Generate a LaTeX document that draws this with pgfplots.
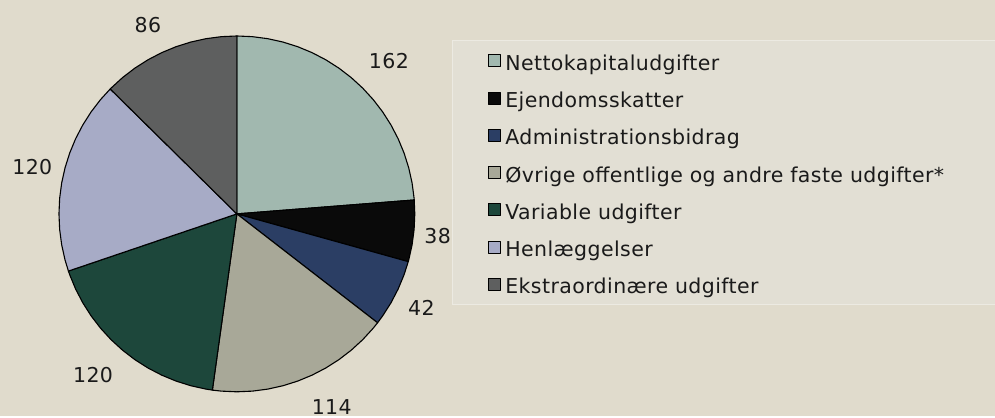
\documentclass[border=0pt]{standalone}
\usepackage{fontspec}
\setmainfont{DejaVu Sans}[LetterSpace=2]
\usepackage{pgfplots}
\pgfplotsset{compat=1.18}
\definecolor{bgcol}{HTML}{E0DBCC}
\definecolor{legbg}{HTML}{E2DFD4}
\definecolor{legborder}{HTML}{ECEAE2}
\definecolor{txt}{HTML}{1A1A1A}
\definecolor{sA}{HTML}{A1B8AF}
\definecolor{sB}{HTML}{0A0A0A}
\definecolor{sC}{HTML}{2B3E64}
\definecolor{sD}{HTML}{A8A898}
\definecolor{sE}{HTML}{1D473B}
\definecolor{sF}{HTML}{A7ABC6}
\definecolor{sG}{HTML}{5E5F5F}
\begin{document}
\begin{tikzpicture}
\fill[bgcol] (0,0) rectangle (995bp,416bp);
\fill[legbg] (453bp,111bp) rectangle (995bp,375bp);
\draw[legborder, line width=1bp] (995bp,111bp) -- (453bp,111bp) -- (453bp,375bp) -- (995bp,375bp);
\begin{axis}[
  at={(59bp,24bp)}, anchor=south west,
  scale only axis, width=356bp, height=356bp,
  xmin=-1, xmax=1, ymin=-1, ymax=1,
  hide axis, clip=false,
  slice/.style={fill=#1, draw=black, line width=1.1bp, line join=round, line cap=round, data cs=polar},
  legend image code/.code={\draw[#1, line width=0.9bp] (0bp,-1.5bp) rectangle (12bp,10.5bp);},
  legend cell align=left,
  legend style={draw=none, fill=none, inner sep=0bp, text=txt,
    at={(axis description cs:1.2051,0.9489)}, anchor=north west,
    font=\fontsize{20.5bp}{24bp}\selectfont,
    nodes={inner sep=0bp, text height=15bp, text depth=5bp},
    row sep=16.3bp, column sep=4.5bp},
]
\addplot[slice=sA] coordinates {(0,0) (90,1) (85,1) (80,1) (75,1) (70,1) (65,1) (60,1) (55,1) (50,1) (45,1) (40,1) (35,1) (30,1) (25,1) (20,1) (15,1) (10,1) (5,1) (4.49,1) (0,0)};
\addlegendentry{Nettokapitaludgifter}
\addplot[slice=sB] coordinates {(0,0) (4.49,1) (0,1) (-5,1) (-10,1) (-15,1) (-15.57,1) (0,0)};
\addlegendentry{Ejendomsskatter}
\addplot[slice=sC] coordinates {(0,0) (-15.57,1) (-20,1) (-25,1) (-30,1) (-35,1) (-37.74,1) (0,0)};
\addlegendentry{Administrationsbidrag}
\addplot[slice=sD] coordinates {(0,0) (-37.74,1) (-40,1) (-45,1) (-50,1) (-55,1) (-60,1) (-65,1) (-70,1) (-75,1) (-80,1) (-85,1) (-90,1) (-95,1) (-97.92,1) (0,0)};
\addlegendentry{Øvrige offentlige og andre faste udgifter*}
\addplot[slice=sE] coordinates {(0,0) (-97.92,1) (-100,1) (-105,1) (-110,1) (-115,1) (-120,1) (-125,1) (-130,1) (-135,1) (-140,1) (-145,1) (-150,1) (-155,1) (-160,1) (-161.26,1) (0,0)};
\addlegendentry{Variable udgifter}
\addplot[slice=sF] coordinates {(0,0) (-161.26,1) (-165,1) (-170,1) (-175,1) (-180,1) (-185,1) (-190,1) (-195,1) (-200,1) (-205,1) (-210,1) (-215,1) (-220,1) (-224.60,1) (0,0)};
\addlegendentry{Henlæggelser}
\addplot[slice=sG] coordinates {(0,0) (-224.60,1) (-225,1) (-230,1) (-235,1) (-240,1) (-245,1) (-250,1) (-255,1) (-260,1) (-265,1) (-270,1) (0,0)};
\addlegendentry{Ekstraordinære udgifter}
\addplot[forget plot, draw=none, mark=none, data cs=polar,
  nodes near coords, point meta=explicit symbolic,
  every node near coord/.style={anchor=center, text=txt, font=\fontsize{20.5bp}{24bp}\selectfont}]
  coordinates {(45.2,1.213) [162] (-6.2,1.135) [38] (-26.9,1.163) [42] (-63.8,1.208) [114] (-131.8,1.213) [120] (167,1.18) [120] (115.2,1.174) [86]};
\end{axis}
\end{tikzpicture}
\end{document}
